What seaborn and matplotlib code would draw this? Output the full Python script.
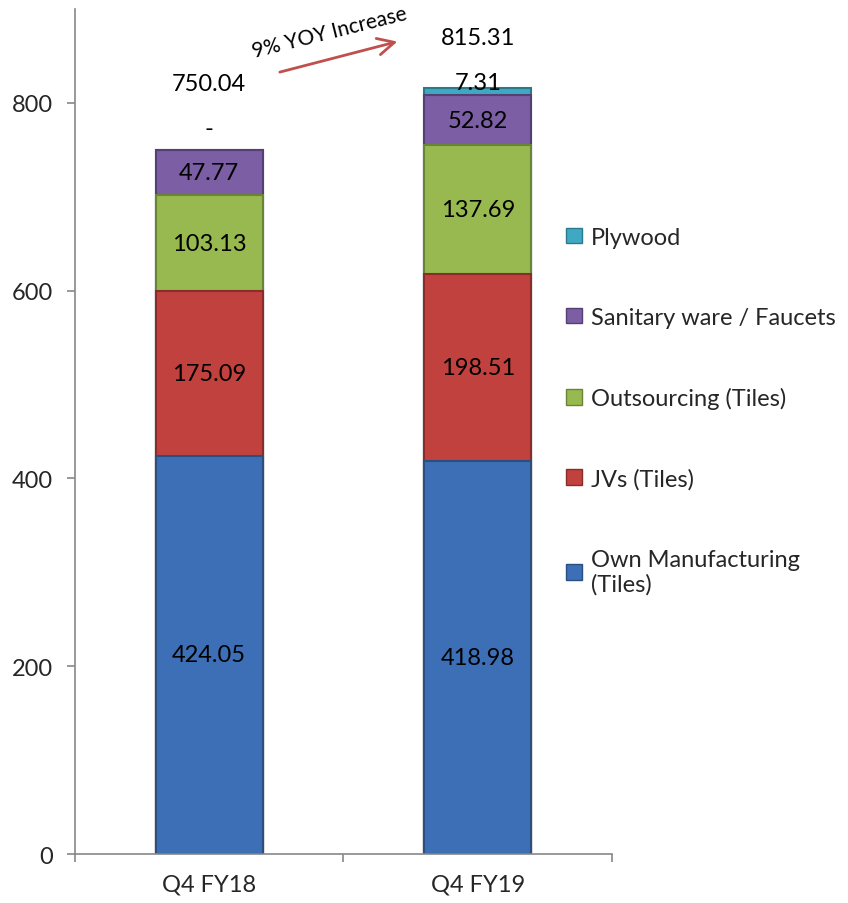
import numpy as np
import matplotlib
matplotlib.use("Agg")
import matplotlib.pyplot as plt
from matplotlib.patches import Patch
import seaborn as sns

# data
quarters = ["Q4 FY18", "Q4 FY19"]
segments = ["Own Manufacturing\n(Tiles)", "JVs (Tiles)", "Outsourcing (Tiles)",
            "Sanitary ware / Faucets", "Plywood"]
own_mfg = [424.05, 418.98]
jvs = [175.09, 198.51]
outsourcing = [103.13, 137.69]
sanitary = [47.77, 52.82]
plywood = [0.0, 7.31]
totals = [750.04, 815.31]
colors = ["#3c6fb5", "#c0413d", "#97b94f", "#7b5ea3", "#3fa9c4"]
edges = ["#2a4f80", "#8a2c2a", "#6a8436", "#553f73", "#2a7a8c"]

sns.set_theme(style="white")
plt.rcParams["font.family"] = ["Lato", "DejaVu Sans"]
FS = 17

fig = plt.figure(figsize=(8.48, 9.04), dpi=100)
ax = fig.add_axes([0.0884, 0.0542, 0.6333, 0.9348])

series = [own_mfg, jvs, outsourcing, sanitary, plywood]
cum = np.cumsum(np.array(series), axis=0)

# overlapping cumulative bars, tallest first
for i in range(len(series) - 1, -1, -1):
    sns.barplot(x=quarters, y=cum[i], color=colors[i], width=0.4, ax=ax,
                edgecolor=edges[i], linewidth=1.5, saturation=1)

# segment labels
for i, vals in enumerate(series):
    for j, v in enumerate(vals):
        base = cum[i][j] - v
        if i == len(series) - 1:
            txt = "-" if v == 0 else f"{v:.2f}"
            off = 15 if v == 0 else 7
            ax.annotate(txt, (j, base + v / 2), xytext=(0, off), textcoords="offset points",
                        ha="center", va="center", fontsize=FS, color="black")
        else:
            ax.text(j, base + v / 2, f"{v:.2f}", ha="center", va="center",
                    fontsize=FS, color="black")

# totals
total_gap = [71, 54]
for j, t in enumerate(totals):
    ax.text(j, t + total_gap[j], f"{t:.2f}", ha="center", va="center",
            fontsize=FS, color="black")

# YoY arrow
ax.annotate("", xy=(0.711, 866), xytext=(0.253, 832),
            arrowprops=dict(arrowstyle="->", color="#c0504d", lw=2, mutation_scale=30))
ax.text(0.45, 876, "9% YOY Increase", rotation=14, ha="center", va="center",
        fontsize=15, color="black")

ax.set_ylim(0, 900)
ax.set_xlim(-0.5, 1.5)
ax.set_yticks([0, 200, 400, 600, 800])
ax.set_xticks([0, 1])
ax.set_xticklabels(quarters)
ax.set_xticks([-0.5, 0.5, 1.5], minor=True)
ax.tick_params(axis="x", which="major", length=0, labelsize=FS, pad=14)
ax.tick_params(axis="x", which="minor", length=6, width=1.2, color="#888888", direction="out", bottom=True)
ax.tick_params(axis="y", length=6, width=1.2, color="#888888", direction="out", left=True,
               labelsize=FS, pad=10)
ax.set_xlabel("")
ax.set_ylabel("")
for s in ["top", "right"]:
    ax.spines[s].set_visible(False)
for s in ["left", "bottom"]:
    ax.spines[s].set_color("#888888")
    ax.spines[s].set_linewidth(1.2)

handles = [Patch(facecolor=colors[i], edgecolor=edges[i], label=segments[i])
           for i in range(len(segments) - 1, -1, -1)]
fig.legend(handles=handles, loc="upper left", bbox_to_anchor=(0.668, 0.748),
           frameon=False, fontsize=FS, handlelength=0.65, handleheight=0.65,
           handletextpad=0.4, labelspacing=2.5, borderpad=0, borderaxespad=0)

fig.savefig("out.png", dpi=100)
